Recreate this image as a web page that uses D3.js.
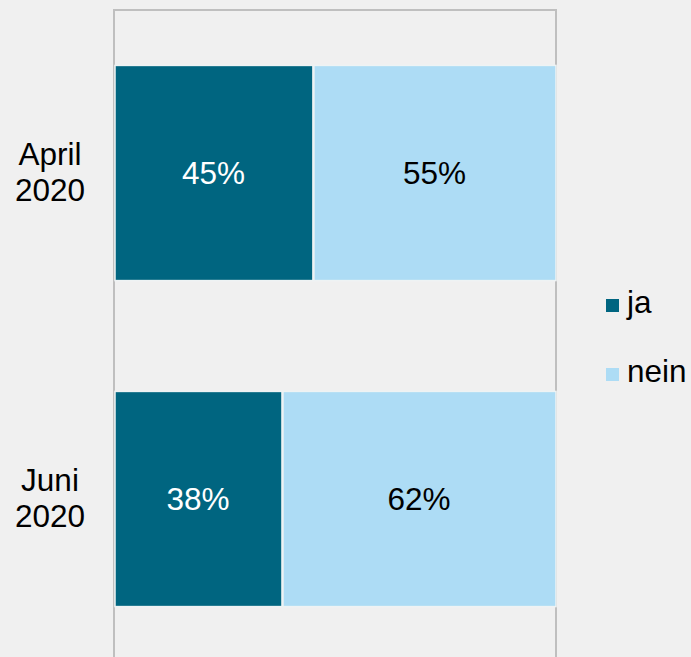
<!DOCTYPE html>
<html>
<head>
<meta charset="utf-8">
<script src="https://cdn.jsdelivr.net/npm/d3@7"></script>
<style>
  html, body { margin: 0; padding: 0; background: #f0f0f0; }
  svg { display: block; font-family: "Liberation Sans", Arial, sans-serif; }
</style>
</head>
<body>
<div id="chart"></div>
<script>
var categories = [["April", "2020"], ["Juni", "2020"]];
var seriesNames = ["ja", "nein"];
var jaValues = [0.45, 0.38];
var neinValues = [0.55, 0.62];
var gridTicks = [0, 1];

const WIDTH = 691;
const HEIGHT = 657;
const FONT = 31.5;
const COLORS = ["#006580", "#addcf5"];
const LABEL_COLORS = ["#ffffff", "#000000"];

var svg = d3.select('#chart').append('svg')
  .attr('width', WIDTH)
  .attr('height', HEIGHT);

svg.append('rect')
  .attr('width', WIDTH)
  .attr('height', HEIGHT)
  .attr('fill', '#f0f0f0');

var xScale = d3.scaleLinear()
  .domain([0, 1])
  .range([114, 556]);

var yScale = d3.scaleBand()
  .domain(categories.map(function(c){ return c.join(' '); }))
  .range([10, 662])
  .paddingInner(0.34)
  .paddingOuter(0.17);

// frame / gridlines
svg.selectAll('.grid')
  .data(gridTicks)
  .enter().append('line')
  .attr('x1', function(d){ return xScale(d); })
  .attr('x2', function(d){ return xScale(d); })
  .attr('y1', 10)
  .attr('y2', HEIGHT + 10)
  .attr('stroke', '#bfbfbf')
  .attr('stroke-width', 2);

svg.append('line')
  .attr('x1', xScale(0) - 1)
  .attr('x2', xScale(1) + 1)
  .attr('y1', 10)
  .attr('y2', 10)
  .attr('stroke', '#bfbfbf')
  .attr('stroke-width', 2);

// stacked rows
var rows = categories.map(function(c, i){
  var key = c.join(' ');
  return [
    {key: key, s: 0, x0: 0, x1: jaValues[i], v: jaValues[i]},
    {key: key, s: 1, x0: jaValues[i], x1: jaValues[i] + neinValues[i], v: neinValues[i]}
  ];
});
var segs = d3.merge(rows);

svg.selectAll('.bar')
  .data(segs)
  .enter().append('rect')
  .attr('x', function(d){ return xScale(d.x0) + 1; })
  .attr('width', function(d){ return xScale(d.x1) - xScale(d.x0) - 1; })
  .attr('y', function(d){ return yScale(d.key); })
  .attr('height', yScale.bandwidth())
  .attr('fill', function(d){ return COLORS[d.s]; })
  .attr('stroke', '#eef3f4')
  .attr('stroke-width', 1.5);

svg.selectAll('.val')
  .data(segs)
  .enter().append('text')
  .attr('x', function(d){ return (xScale(d.x0) + xScale(d.x1)) / 2; })
  .attr('y', function(d){ return yScale(d.key) + yScale.bandwidth() / 2; })
  .attr('dy', '0.36em')
  .attr('text-anchor', 'middle')
  .attr('font-size', FONT)
  .attr('fill', function(d){ return LABEL_COLORS[d.s]; })
  .text(function(d){ return Math.round(d.v * 100) + '%'; });

// category labels
var cat = svg.selectAll('.cat')
  .data(categories)
  .enter().append('text')
  .attr('text-anchor', 'middle')
  .attr('font-size', FONT)
  .attr('fill', '#000');

cat.selectAll('tspan')
  .data(function(c){ return c.map(function(t, j){ return {t: t, j: j, key: c.join(' ')}; }); })
  .enter().append('tspan')
  .attr('x', 50)
  .attr('y', function(d){ return yScale(d.key) + yScale.bandwidth() / 2 + (d.j === 0 ? -8 : 28); })
  .text(function(d){ return d.t; });

// legend
var legend = svg.selectAll('.legend')
  .data(seriesNames)
  .enter().append('g')
  .attr('transform', function(d, i){ return 'translate(606,' + (299 + i * 69) + ')'; });

legend.append('rect')
  .attr('width', 13)
  .attr('height', 13)
  .attr('fill', function(d, i){ return COLORS[i]; });

legend.append('text')
  .attr('x', 21)
  .attr('y', 14)
  .attr('font-size', FONT)
  .attr('fill', '#000')
  .text(function(d){ return d; });
</script>
</body>
</html>
